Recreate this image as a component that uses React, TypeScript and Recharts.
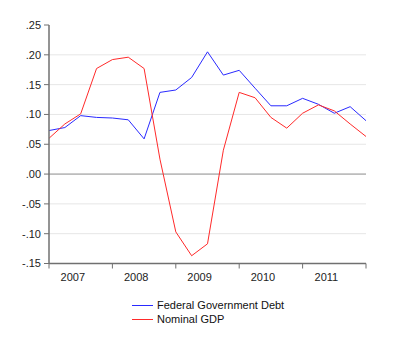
import React from "react";
import { LineChart, Line, XAxis, YAxis, ReferenceLine } from "recharts";

const years = ["2007", "2008", "2009", "2010", "2011"];
const debt = [0.073, 0.078, 0.098, 0.095, 0.094, 0.091, 0.059, 0.137, 0.141, 0.162, 0.205, 0.166, 0.174, 0.144, 0.1145, 0.1145, 0.127, 0.117, 0.102, 0.113, 0.0895];
const gdp = [0.06, 0.084, 0.101, 0.177, 0.192, 0.196, 0.177, 0.025, -0.097, -0.137, -0.117, 0.04, 0.137, 0.128, 0.095, 0.077, 0.102, 0.116, 0.106, 0.084, 0.063];
const yTicks = [-0.15, -0.1, -0.05, 0, 0.05, 0.1, 0.15, 0.2, 0.25];
const gridValues = [-0.1, -0.05, 0.05, 0.1, 0.15, 0.2];

const data = debt.map((d, i) => ({ i, debt: d, gdp: gdp[i] }));

const xTicks: number[] = [];
years.forEach((_, k) => {
  xTicks.push(k * 4);
  xTicks.push(k * 4 + 1.5);
});
xTicks.push(years.length * 4);

const FONT = "'Liberation Sans', Arial, sans-serif";
const AXIS = "#707070";

const fmtY = (v: number) => {
  const s = Math.abs(v).toFixed(2).replace(/^0/, "");
  return (v < -1e-9 ? "-" : "") + s;
};

const XTick = (props: any) => {
  const { x, y, payload } = props;
  const v = payload.value;
  if (Math.abs(v % 4) < 1e-9) {
    return <line x1={x} x2={x} y1={y} y2={y + 5} stroke={AXIS} strokeWidth={1} />;
  }
  const idx = Math.floor(v / 4);
  return (
    <text x={x} y={y + 17} textAnchor="middle" fontSize={11} fontFamily={FONT} fill="#222">
      {years[idx]}
    </text>
  );
};

export default function App() {
  return (
    <div style={{ position: "absolute", left: 0, top: 0, width: 400, height: 350, background: "#fff" }}>
      <LineChart width={400} height={350} data={data} margin={{ top: 25, right: 34, bottom: 56.5, left: 0 }}>
        {gridValues.map((g) => (
          <ReferenceLine key={g} y={g} stroke="#e6e6e6" strokeWidth={1} />
        ))}
        <ReferenceLine y={0} stroke="#8a8a8a" strokeWidth={1} />
        <XAxis
          dataKey="i"
          type="number"
          domain={[0, 20]}
          ticks={xTicks}
          interval={0}
          tickSize={0}
          tickMargin={0}
          tickLine={false}
          tick={<XTick />}
          height={30}
          axisLine={{ stroke: AXIS, strokeWidth: 1.5 }}
        />
        <YAxis
          type="number"
          domain={[-0.15, 0.25]}
          ticks={yTicks}
          interval={0}
          width={49}
          tickSize={5}
          tickMargin={3}
          tickFormatter={fmtY}
          tick={{ fontSize: 11, fontFamily: FONT, fill: "#222" }}
          tickLine={{ stroke: AXIS }}
          axisLine={{ stroke: AXIS, strokeWidth: 1.5 }}
        />
        <Line dataKey="debt" stroke="#2a2aff" strokeWidth={1} dot={false} isAnimationActive={false} />
        <Line dataKey="gdp" stroke="#ff2a2a" strokeWidth={1} dot={false} isAnimationActive={false} />
      </LineChart>
      <div style={{ position: "absolute", left: 131, top: 298, fontFamily: FONT, fontSize: 11, color: "#111", lineHeight: "14px" }}>
        <div style={{ display: "flex", alignItems: "center" }}>
          <svg width={26} height={14}>
            <line x1={1} x2={22} y1={7.5} y2={7.5} stroke="#2a2aff" strokeWidth={1} />
          </svg>
          <span>Federal Government Debt</span>
        </div>
        <div style={{ display: "flex", alignItems: "center" }}>
          <svg width={26} height={14}>
            <line x1={1} x2={22} y1={7.5} y2={7.5} stroke="#ff2a2a" strokeWidth={1} />
          </svg>
          <span>Nominal GDP</span>
        </div>
      </div>
    </div>
  );
}
